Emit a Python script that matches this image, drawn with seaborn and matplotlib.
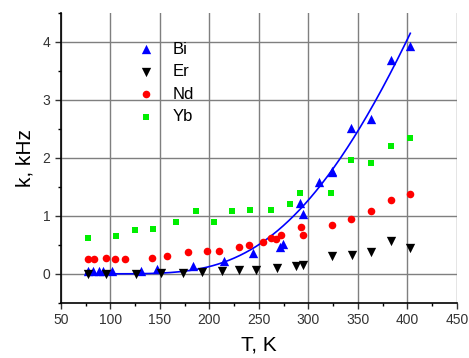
import numpy as np
import pandas as pd
import matplotlib
matplotlib.use("Agg")
import matplotlib.pyplot as plt
import seaborn as sns
from matplotlib.ticker import MultipleLocator

# data (T in K, k in kHz)
bi_T = [77, 82, 88, 92, 102, 131, 147, 183, 215, 244, 271, 274, 292, 295, 311, 324, 324, 343, 363, 383, 403]
bi_k = [0.05, 0.05, 0.05, 0.05, 0.05, 0.05, 0.09, 0.14, 0.22, 0.36, 0.47, 0.52, 1.23, 1.04, 1.59, 1.75, 1.77, 2.51, 2.67, 3.69, 3.93]

er_T = [77, 96, 126, 151, 173, 193, 213, 230, 247, 268, 288, 295, 324, 344, 363, 383, 403]
er_k = [0.0, 0.0, 0.0, 0.02, 0.02, 0.03, 0.05, 0.06, 0.07, 0.10, 0.13, 0.15, 0.30, 0.33, 0.37, 0.56, 0.44]

nd_T = [77, 83, 95, 105, 115, 142, 157, 178, 198, 210, 230, 240, 254, 262, 267, 272, 293, 295, 324, 343, 363, 383, 403]
nd_k = [0.26, 0.25, 0.27, 0.26, 0.26, 0.28, 0.31, 0.37, 0.39, 0.40, 0.47, 0.50, 0.55, 0.62, 0.60, 0.67, 0.80, 0.67, 0.85, 0.94, 1.09, 1.28, 1.37]

yb_T = [77, 106, 125, 143, 166, 186, 205, 223, 241, 262, 281, 292, 323, 343, 363, 383, 403]
yb_k = [0.62, 0.65, 0.75, 0.78, 0.89, 1.09, 0.89, 1.08, 1.10, 1.10, 1.20, 1.40, 1.40, 1.96, 1.91, 2.20, 2.34]

# Orbach-type fit for Bi: k = A * exp(-D / T)
bt = np.array(bi_T, dtype=float)
bk = np.array(bi_k)
sel = bk > 0.3
slope, icpt = np.polyfit(1.0 / bt[sel], np.log(bk[sel]), 1, w=bk[sel])
fit_T = np.linspace(75, 403, 300)
fit_k = np.exp(icpt + slope / fit_T)

plt.rcParams["font.family"] = ["Liberation Sans", "DejaVu Sans"]
fig, ax = plt.subplots(figsize=(4.69, 3.58), dpi=100)
fig.subplots_adjust(left=0.130, right=0.974, bottom=0.154, top=0.964)

ax.grid(True, color="#7f7f7f", linewidth=1.0, zorder=0)
ax.set_axisbelow(True)

sns.lineplot(x=fit_T, y=fit_k, color="#0000ff", linewidth=1.2, ax=ax, legend=False, zorder=2)
sns.scatterplot(x=bi_T, y=bi_k, marker="^", color="#0000ff", s=45, linewidth=0, label="Bi", ax=ax, zorder=3)
sns.scatterplot(x=er_T, y=er_k, marker="v", color="black", s=45, linewidth=0, label="Er", ax=ax, zorder=3)
sns.scatterplot(x=nd_T, y=nd_k, marker="o", color="#ff0000", s=30, linewidth=0, label="Nd", ax=ax, zorder=3)
sns.scatterplot(x=yb_T, y=yb_k, marker="s", color="#00ee00", s=24, linewidth=0, label="Yb", ax=ax, zorder=3)

ax.set_xlim(50, 450)
ax.set_ylim(-0.5, 4.5)
ax.xaxis.set_major_locator(MultipleLocator(50))
ax.xaxis.set_minor_locator(MultipleLocator(25))
ax.yaxis.set_major_locator(MultipleLocator(1))
ax.yaxis.set_minor_locator(MultipleLocator(0.5))
ax.set_yticks([0, 1, 2, 3, 4])
ax.tick_params(which="major", direction="out", length=4, width=1, labelsize=10, colors="#333333")
ax.tick_params(which="minor", direction="out", length=2.5, width=1)
for s in ["top", "right"]:
    ax.spines[s].set_visible(False)
for s in ["left", "bottom"]:
    ax.spines[s].set_linewidth(1.2)

ax.set_xlabel("T, K", fontsize=15, labelpad=6)
ax.set_ylabel("k, kHz", fontsize=15, labelpad=6)

ax.legend(loc="upper left", bbox_to_anchor=(0.157, 0.952), frameon=False, fontsize=12,
          handlelength=1.0, handletextpad=1.05, labelspacing=0.45, markerscale=1.0)

fig.savefig("out.png", dpi=100)
